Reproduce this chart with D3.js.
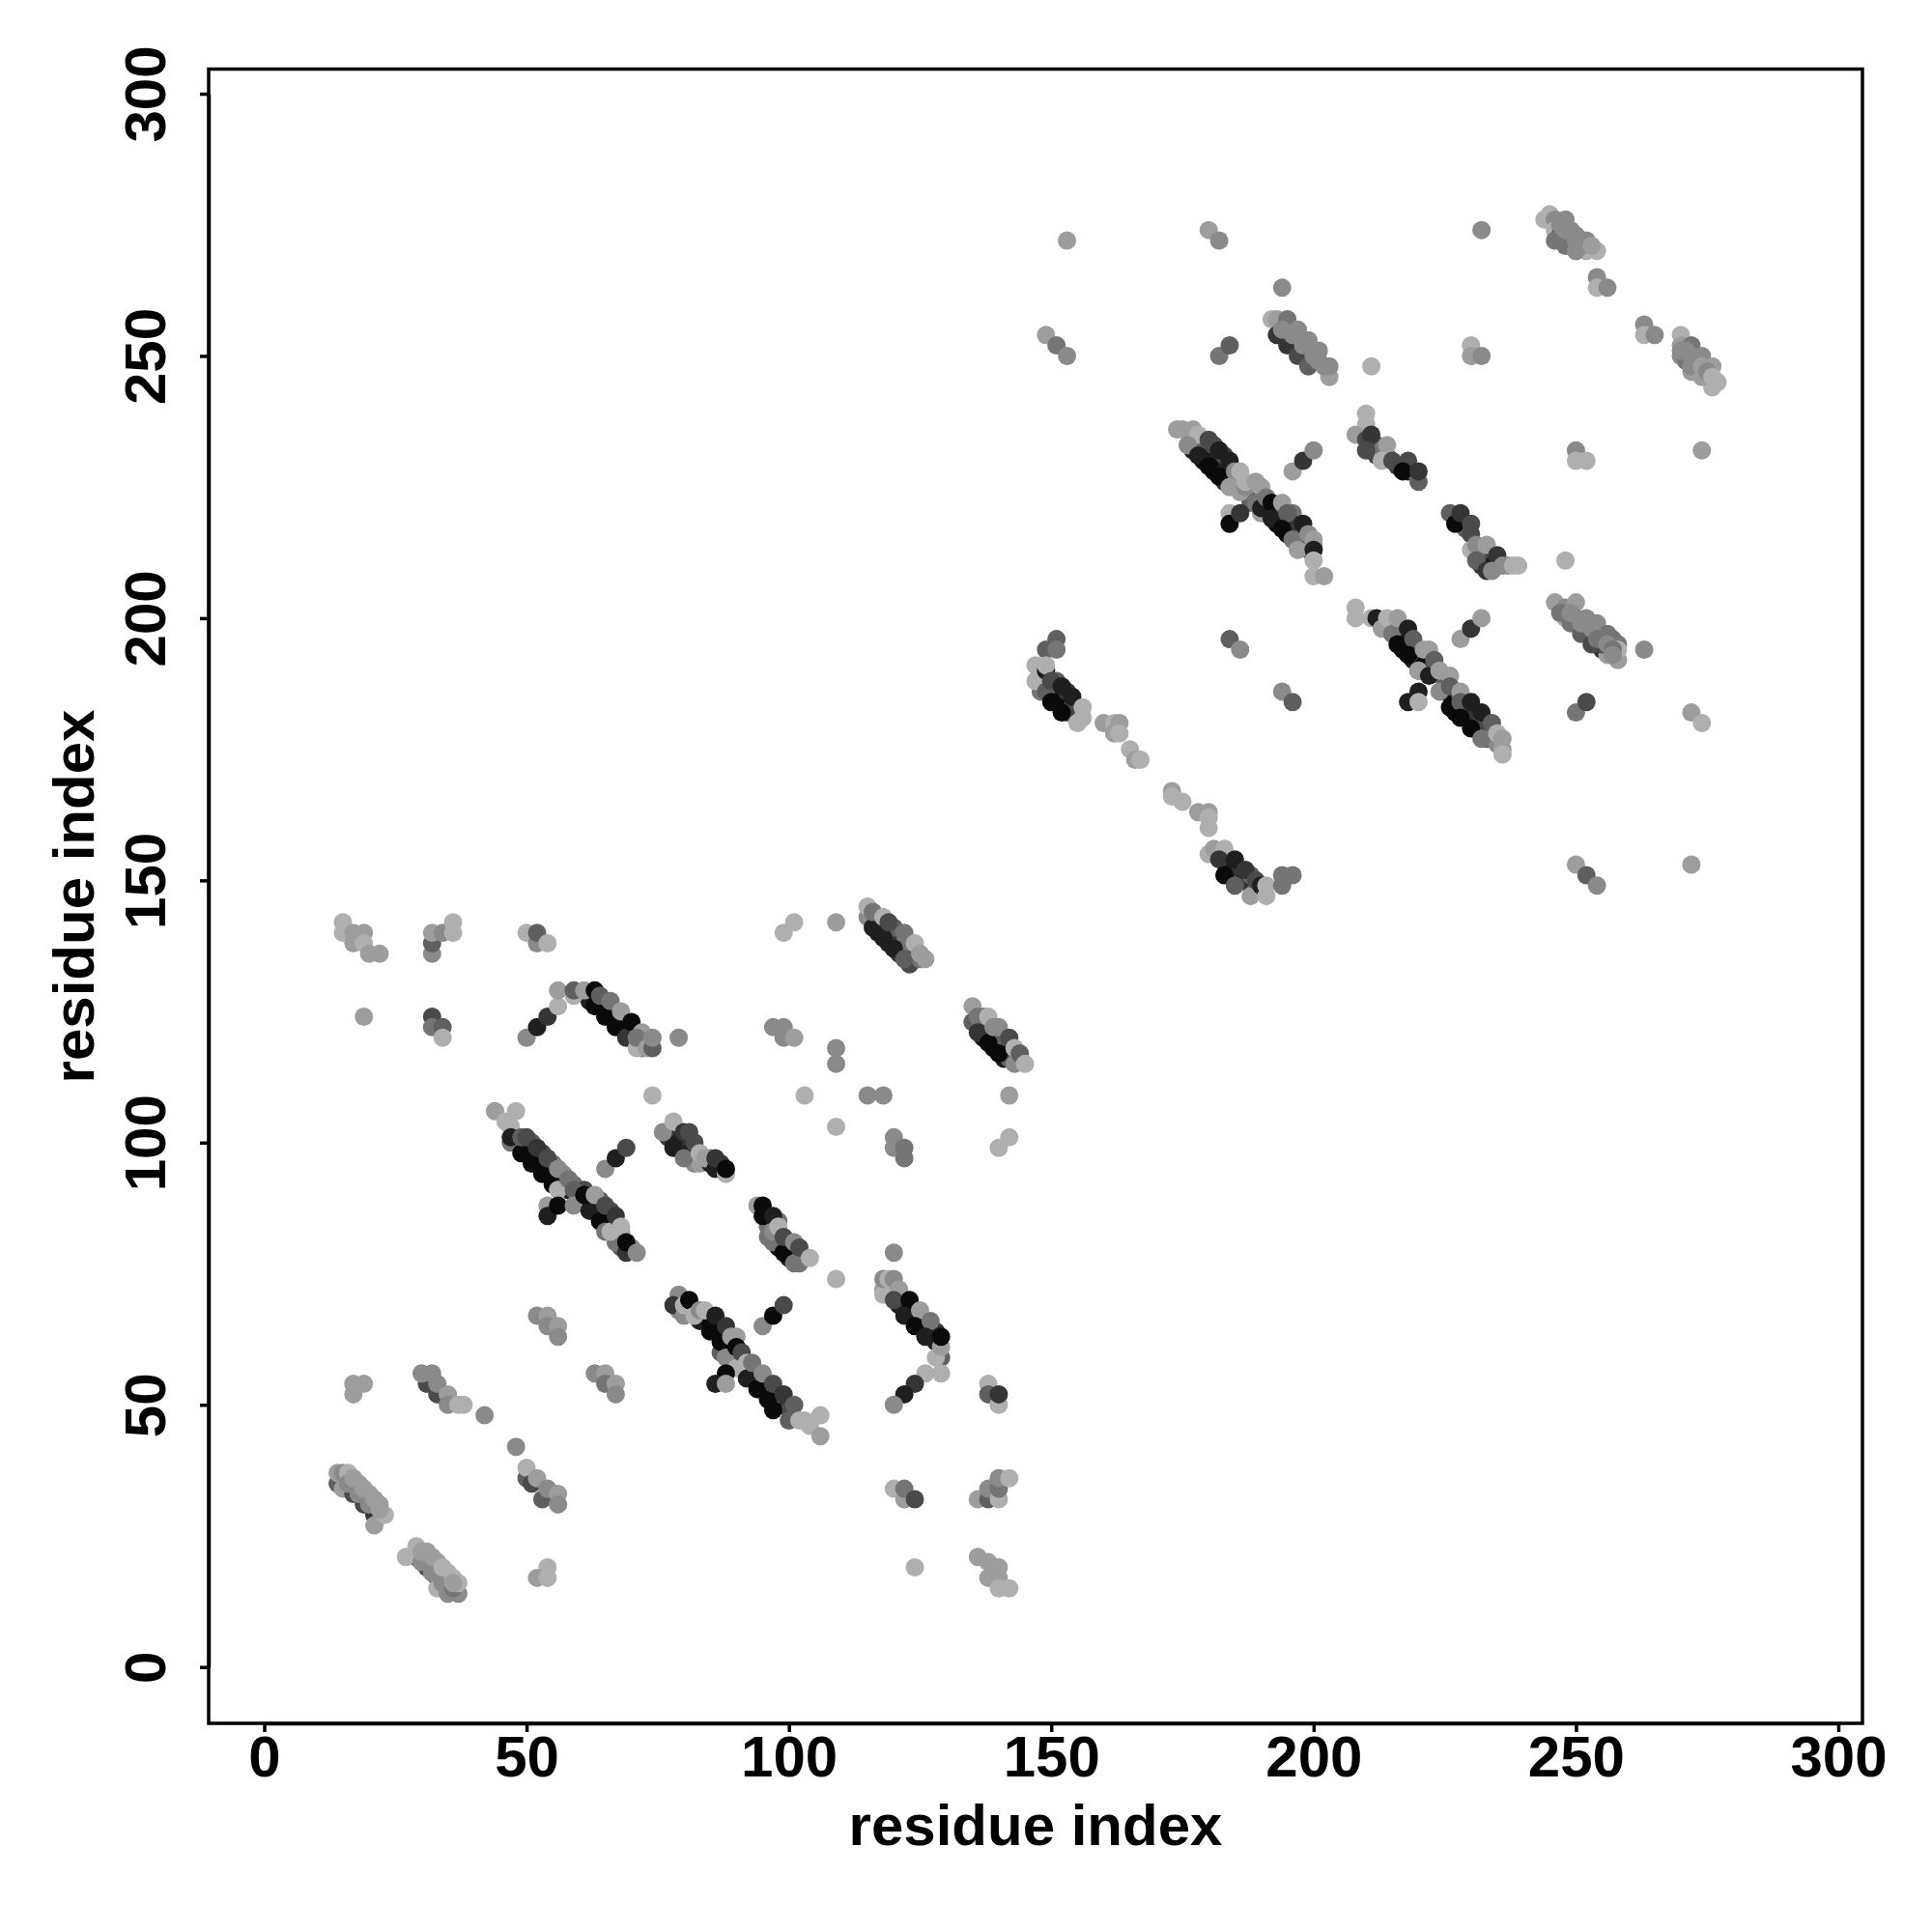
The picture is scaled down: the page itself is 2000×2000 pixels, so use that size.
<!DOCTYPE html>
<html><head><meta charset="utf-8">
<script src="https://cdnjs.cloudflare.com/ajax/libs/d3/7.8.5/d3.min.js"></script>
<style>html,body{margin:0;padding:0;background:#fff}svg{display:block}</style></head>
<body><svg id="c" width="2000" height="2000"></svg>
<script>
// each contact: [residue i, residue j, darkness 1..9]
const innerContacts=[[50,99,9],[52,97,9],[54,95,9],[56,93,9],[58,91,8],[60,89,7],[62,88,9],[64,86,9],[66,84,8],[68,82,8],[68,80,5],[51,100,5],[53,98,6],[55,96,4],[57,94,3],[59,92,4],[61,91,6],[64,89,5],[66,87,6],[67,84,3],[68,83,2],[70,80,3],
[77,101,7],[79,100,8],[81,99,7],[81,98,8],[83,98,4],[82,96,3],[83,96,2],[85,97,3],[85,96,8],[87,96,7],
[96,84,4],[96,82,4],[98,82,8],[98,80,9],[100,78,8],[100,80,6],[99,80,5],[101,79,6],[103,78,4],[98,85,4],
[79,68,3],[81,68,2],[83,66,8],[84,66,8],[85,66,9],[86,64,9],[87,64,9],[88,62,9],[89,61,9],[87,60,5],[89,60,9],[91,58,9],[92,56,9],[93,55,9],[94,55,8],[95,53,8],[96,53,9],[97,52,9],[98,50,9],[99,50,8],[100,49,6],[95,54,4],[93,56,5],[98,52,5],
[118,72,2],[119,72,4],[120,72,6],[121,69,8],[122,69,8],[123,67,9],[124,67,9],[125,65,9],[126,65,7],[127,63,7],[127,65,5],[128,62,8],[128,64,7],
[62,127,8],[64,126,9],[66,124,9],[68,122,9],[70,120,8],[65,126,7],[67,124,7],[69,122,8],[71,119,2],[72,118,4],[73,120,3],[72,119,5],
[117,142,6],[117,140,8],[119,140,8],[119,138,8],[121,138,7],[121,136,7],[123,136,6],[123,134,6],[125,135,4],[120,141,5],[122,138,4],
[136,123,8],[137,122,8],[137,120,8],[139,120,9],[139,118,9],[141,118,9],[141,116,8],[142,116,5],[143,116,6],[137,124,4],[141,120,5],
[177,232,8],[179,232,7],[179,230,9],[181,230,8],[181,228,9],[183,228,8],[183,226,7],[177,234,5],[179,234,5],[181,233,6],[183,231,6],[185,226,4],[186,226,3],[188,224,3],[188,222,5],[190,223,6],[191,221,8],[193,220,9],[193,218,9],[195,218,9],[195,216,9],[197,216,8],[197,214,6],[199,214,8],[199,213,5],[194,220,5],[196,220,4],[196,218,7],[198,216,6],[200,214,3],
[209,235,5],[212,233,6],[212,231,6],[211,233,6],[213,232,4],[214,231,3],[216,229,7],[218,228,8],[219,228,5],[228,218,6],[229,217,5],[231,213,5],[232,212,5],[232,210,7],[233,212,4],[234,211,6],[235,211,5],[234,210,8],
[214,198,7],[215,198,6],[216,197,7],[217,196,8],[217,194,9],[219,194,9],[219,192,8],[220,192,7],[221,191,9],[222,190,8],[223,190,6],[225,188,5],[225,186,8],[227,184,9],[227,182,9],[229,183,9],[229,181,9],[231,181,9],[231,179,9],[233,179,7],[233,177,5],[234,178,4],[228,185,5],[230,182,7],[232,180,6],[235,176,3],
[148,188,4],[148,186,4],[150,186,7],[151,186,7],[151,188,5],[151,184,9],[153,184,9],[153,186,7],[154,183,5],[155,182,3],[153,182,6],
[184,152,8],[184,151,8],[185,152,8],[186,150,7],[186,152,7],[187,150,8],[188,149,7],[189,148,4],[188,151,5],[190,148,2]];
const blockA_corner=[[14,35,5],[15,34,2],[17,33,6],[19,31,6],[21,29,7],[14,37,2],[15,37,3],[16,37,1],[18,35,2],[20,33,2],[22,31,2],[21,27,2],[23,29,1],[16,35,3],[18,33,3],[20,31,3],[17,36,2],[19,34,2],[21,32,2],[22,30,2],
[29,21,6],[31,19,6],[33,17,6],[33,15,1],[35,14,3],[37,14,3],[27,21,1],[29,23,1],[31,22,2],[33,20,2],[35,18,1],[30,20,3],[32,18,3],[34,16,3],[36,15,4],[30,22,2],[32,21,2],[34,19,1],[36,17,1],[37,16,1],[36,16,2]];
const blockA_sparseLow=[[17,54,2],[19,54,2],[17,52,2],[31,54,6],[33,52,6],[30,56,3],[32,56,3],[33,54,3],[35,52,2],[35,50,3],[37,50,1],[38,50,1],[42,48,3],[48,42,3],
[50,36,5],[50,38,1],[51,35,6],[52,36,2],[53,32,5],[54,34,3],[56,33,2],[56,31,3],[54,19,1],[52,17,2],[54,17,1],
[52,67,3],[54,67,2],[54,65,3],[56,65,2],[56,63,3],[63,56,3],[65,56,2],[65,54,4],[67,54,2],[67,52,3]];
const blockA_sparseTop=[[15,142,1],[15,140,1],[17,140,2],[19,140,2],[17,138,2],[19,138,1],[20,136,2],[22,136,2],[19,124,2],
[32,136,3],[32,138,5],[32,140,2],[34,140,3],[36,142,1],[36,140,1],[32,124,6],[32,122,4],[34,122,5],[34,120,1],
[50,140,1],[52,138,3],[52,140,5],[54,138,1],[79,120,3],[74,109,1],[99,140,1],[101,142,1],[109,142,2],[97,122,3],[99,122,3],[99,120,3],[101,120,2],
[109,118,3],[109,115,3],[103,109,1],[115,109,3],[118,109,3],[109,103,1],[120,101,3],[120,99,3],[122,99,4],[122,97,4],[142,109,2],[142,101,1],[140,99,1],[120,79,3],[109,74,1]];
const blockA_sparseRight=[[120,34,1],[122,32,2],[122,34,4],[124,32,6],[124,19,1],[136,32,2],[138,32,5],[138,34,3],[140,32,1],[140,34,4],[140,36,3],[142,36,1],
[136,21,2],[138,20,2],[140,19,2],[138,17,2],[140,17,2],[140,15,1],[142,15,1],[138,54,1],[138,52,5],[140,50,1],[140,52,7]];
const band1=[[47,100,4],[44,106,2],[48,106,1],[46,104,1],[47,103,1],[49,98,9],[51,96,9],[53,94,9],[55,92,9],[47,101,8],[49,101,5],[50,101,6],[52,99,7],[54,97,6],[56,95,3],[56,91,1],[58,93,4],[59,91,5],
[54,88,2],[54,86,8],[56,88,9],[59,88,3],[62,87,8],[64,85,9],[65,83,4],[67,81,4],[66,83,1],[69,79,7],[61,90,9],[63,90,2],[65,88,6],[67,86,7],[68,84,1],[69,81,9],[71,79,3],[65,95,3],[67,97,8],[69,99,6]];
const band2=[[76,102,3],[78,104,1],[78,99,8],[80,97,4],[80,102,7],[81,102,6],[82,100,6],[83,98,1],[84,97,2],[86,95,8],[86,97,7],[88,94,1],[88,95,9],
[94,88,2],[95,86,9],[95,88,9],[97,86,8],[97,81,4],[97,83,3],[98,84,1],[99,79,9],[99,82,6],[101,77,4],[101,81,3],[102,77,4],[102,80,6],[104,78,1]];
const band3=[[79,71,3],[78,69,7],[80,67,3],[80,69,1],[81,70,9],[82,67,1],[83,68,3],[84,68,1],[85,64,9],[86,67,8],[87,62,9],[88,65,7],[88,59,3],[89,63,2],[90,63,2],[90,61,9],[90,57,1],[91,60,6],[92,58,1],[88,56,9],[86,54,8],[88,54,2],
[92,55,8],[93,58,4],[94,53,9],[95,56,3],[96,51,9],[97,54,6],[97,49,9],[99,52,7],[100,47,5],[101,50,5],[102,47,1],[103,47,1],[104,46,1],[106,48,1],[106,44,2],[95,65,3],[97,67,9],[99,69,6]];
const band4=[[118,71,1],[118,74,3],[119,74,1],[120,74,3],[121,72,2],[120,70,6],[123,70,9],[122,67,8],[125,68,2],[124,65,9],[127,66,4],[126,63,8],[129,59,5],[128,59,1],[129,61,2],[129,63,9],[129,56,1],[126,56,1],[124,54,7],[122,52,8],[120,50,3]];
const band5=[[50,120,3],[52,122,8],[54,124,7],[56,126,1],[56,129,2],[59,128,1],[59,129,5],[61,129,2],[63,126,9],[63,129,9],[64,128,5],[65,124,9],[66,127,4],[67,122,9],[68,125,2],[69,120,7],[71,118,1],[70,123,9],[72,121,2],[71,120,4],[73,118,2],[74,118,5],[74,120,3]];
const band6=[[115,143,3],[115,145,1],[116,141,8],[116,144,4],[118,143,1],[118,139,8],[119,142,6],[120,137,8],[122,140,4],[122,135,5],[124,138,1],[125,136,2],[126,135,2],
[135,123,5],[135,126,2],[136,124,4],[136,121,7],[138,119,9],[138,124,1],[139,122,3],[140,122,3],[140,117,9],[142,120,6],[143,115,3],[143,118,1],[144,117,5],[145,115,1]];
const blockB_left=[[151,196,5],[149,194,5],[151,194,4],[147,188,1],[147,191,1],[149,186,5],[149,190,8],[149,191,1],[150,184,9],[150,188,6],[152,182,9],[152,187,8],[155,180,1],[154,185,8],[156,181,1],[156,183,1],
[160,180,2],[162,180,1],[163,180,2],[162,178,2],[163,178,1],[165,175,1],[166,173,2],[167,173,1],[173,167,2],[173,166,1],[175,165,1],[178,163,2],[180,160,1],[180,163,2],[180,162,1],
[180,155,1],[181,156,2],[183,156,1],[182,154,7],[183,151,9],[185,154,8],[185,149,5],[187,152,7],[188,147,2],[189,150,6],[190,149,8],[191,147,1],[191,149,1],[194,149,4],[194,151,4],[196,151,4],
[184,196,5],[186,194,3],[194,186,3],[196,184,5],[153,272,2],[180,274,2],[182,272,3],[149,254,2],[151,252,4],[153,250,3],[182,250,4],[184,252,5]];
const band7=[[174,236,2],[175,236,2],[177,236,2],[178,235,1],[176,233,3],[178,231,8],[180,234,6],[180,229,9],[182,232,8],[182,227,9],[184,230,8],[185,228,3],[186,228,1],[184,225,2],[186,224,2],[187,225,3],[187,226,1],[189,226,2],[190,225,2],[189,222,4],[190,220,2],[190,221,8],[191,223,4],[192,222,9],[192,219,8],[194,222,2],[195,220,5],[194,217,9],[198,218,8],[196,215,4],[199,216,3],[197,213,2],[200,215,2],[200,213,8],[200,211,1],[200,208,1],[202,208,2],
[184,220,1],[184,218,9],[186,220,7],[196,228,2],[198,230,7],[200,232,3]];
const band8=[[210,239,1],[210,237,1],[208,235,2],[210,234,6],[211,235,7],[210,232,6],[214,233,2],[213,230,1],[215,230,6],[218,230,6],[217,228,9],[220,226,5],[220,228,7],
[226,220,5],[227,218,9],[228,220,7],[230,216,6],[230,218,6],[230,213,1],[231,214,3],[231,211,5],[233,214,2],[233,209,7],[235,212,7],[234,209,3],[236,210,3],[237,210,3],[239,210,1],[238,210,1]];
const band9=[[208,202,1],[208,200,1],[211,200,1],[212,200,8],[213,198,2],[214,200,1],[215,197,4],[216,200,2],[216,195,9],[218,198,8],[219,196,5],[218,193,9],[221,194,2],[222,194,2],[220,190,6],[220,190,2],[222,189,8],[223,192,5],[224,190,2],[226,189,2],
[224,186,3],[226,187,5],[226,183,9],[228,186,2],[228,184,5],[228,181,9],[230,184,8],[232,182,8],[230,179,9],[232,177,4],[234,180,5],[235,178,1],[236,177,2],[236,175,2],[236,174,1],[228,196,2],[230,198,7],[232,200,2],[220,186,8],[218,184,8],[220,184,1]];
const blockB_top=[[194,263,3],[192,257,1],[193,257,2],[193,254,7],[195,252,7],[195,257,4],[197,250,6],[197,255,3],[199,248,5],[199,253,3],[201,251,3],[203,246,2],[203,248,3],[211,248,1],[194,255,3],[196,254,3],[198,252,3],[200,250,3],[201,249,3],[202,248,3],
[230,252,1],[230,250,2],[232,250,3],[232,274,3],[244,276,1],[245,277,1],[246,276,3],[248,276,3],[246,274,1],[247,273,6],[249,272,6],[249,274,3],[250,270,2],[252,270,1],[252,272,3],[254,270,1],[254,265,3],[254,263,1],[256,263,3],[246,272,4],[248,271,4],[250,270,3],[247,275,3],[248,274,3],[250,273,3],[250,272,3],[251,271,3],[253,271,2],
[263,256,3],[263,254,1],[265,254,3],[270,254,1],[270,252,2],[270,250,3],[272,252,4],[271,249,4],[272,247,2],[274,250,3],[274,247,1],[276,248,2],[276,244,1],[277,245,1],[272,248,3],[274,246,2],[270,251,3],[271,251,3],[272,250,3],[273,249,3],[274,248,2],[275,247,3],[276,246,1],[248,211,1],[250,232,3],[250,230,1],[252,230,1],[274,232,2]];
const blockB_right=[[246,203,2],[248,202,3],[250,203,2],[248,200,1],[250,200,4],[252,200,3],[251,198,5],[254,199,3],[253,196,5],[256,197,4],[255,194,7],[257,196,4],[256,193,2],[258,195,4],[258,192,2],[258,194,1],[249,199,4],[251,197,5],[253,195,6],[255,195,6],[247,201,4],[249,201,3],[251,199,3],[253,198,3],[254,196,4],[255,196,4],[256,195,3],[257,194,4],[257,193,3],[263,194,3],
[250,182,4],[252,184,6],[250,153,2],[252,151,5],[254,149,3],[272,153,2],[272,182,2],[274,180,1]];
const tickValues=[0,50,100,150,200,250,300];
const axisTitle="residue index";

const contacts=[innerContacts,blockA_corner,blockA_sparseLow,blockA_sparseTop,blockA_sparseRight,band1,band2,band3,band4,band5,band6,blockB_left,band7,band8,band9,blockB_top,blockB_right].flat();

const svg=d3.select("#c");
const x=d3.scaleLinear().domain([0,300]).range([273.5,1903]);
const y=d3.scaleLinear().domain([0,300]).range([1725.7,97]);
const grey=d3.scaleLinear().domain([1,3,9]).range([175,138,10]);
const L=216,R=1928,T=71.5,B=1784;

svg.append("g").selectAll("circle").data(contacts).join("circle")
 .attr("cx",d=>x(d[0])).attr("cy",d=>y(d[1])).attr("r",9.5)
 .attr("fill",d=>{const g=Math.round(grey(d[2]));return `rgb(${g},${g},${g})`;});

svg.append("rect").attr("x",L).attr("y",T).attr("width",R-L).attr("height",B-T)
 .attr("fill","none").attr("stroke","#000").attr("stroke-width",3.5);

function style(g){
 g.selectAll("path").attr("stroke","#000").attr("stroke-width",3.5);
 g.selectAll("line").attr("stroke","#000").attr("stroke-width",3.5);
 g.selectAll("text").attr("fill","#000").attr("font-family","'Liberation Sans'").attr("font-weight","bold").attr("font-size",60);
}
const gx=svg.append("g").attr("transform",`translate(0,${B})`)
 .call(d3.axisBottom(x).tickValues(tickValues).tickSize(9).tickFormat(d3.format("d")).tickSizeOuter(0)).call(style);
gx.selectAll("text").attr("y",null).attr("dy",null).attr("transform","translate(0,55)");
const gy=svg.append("g").attr("transform",`translate(${L},0)`)
 .call(d3.axisLeft(y).tickValues(tickValues).tickSize(9).tickFormat(d3.format("d")).tickSizeOuter(0)).call(style);
gy.selectAll("text").attr("x",null).attr("dy",null).attr("text-anchor","middle").attr("transform","translate(-45,0) rotate(-90)");
svg.selectAll(".domain").attr("fill","none");

svg.append("text").attr("x",1072).attr("y",1910).attr("text-anchor","middle").attr("font-family","'Liberation Sans'").attr("font-weight","bold").attr("font-size",60).text(axisTitle);
svg.append("text").attr("transform","translate(97,928) rotate(-90)").attr("text-anchor","middle").attr("font-family","'Liberation Sans'").attr("font-weight","bold").attr("font-size",60).text(axisTitle);
</script></body></html>
